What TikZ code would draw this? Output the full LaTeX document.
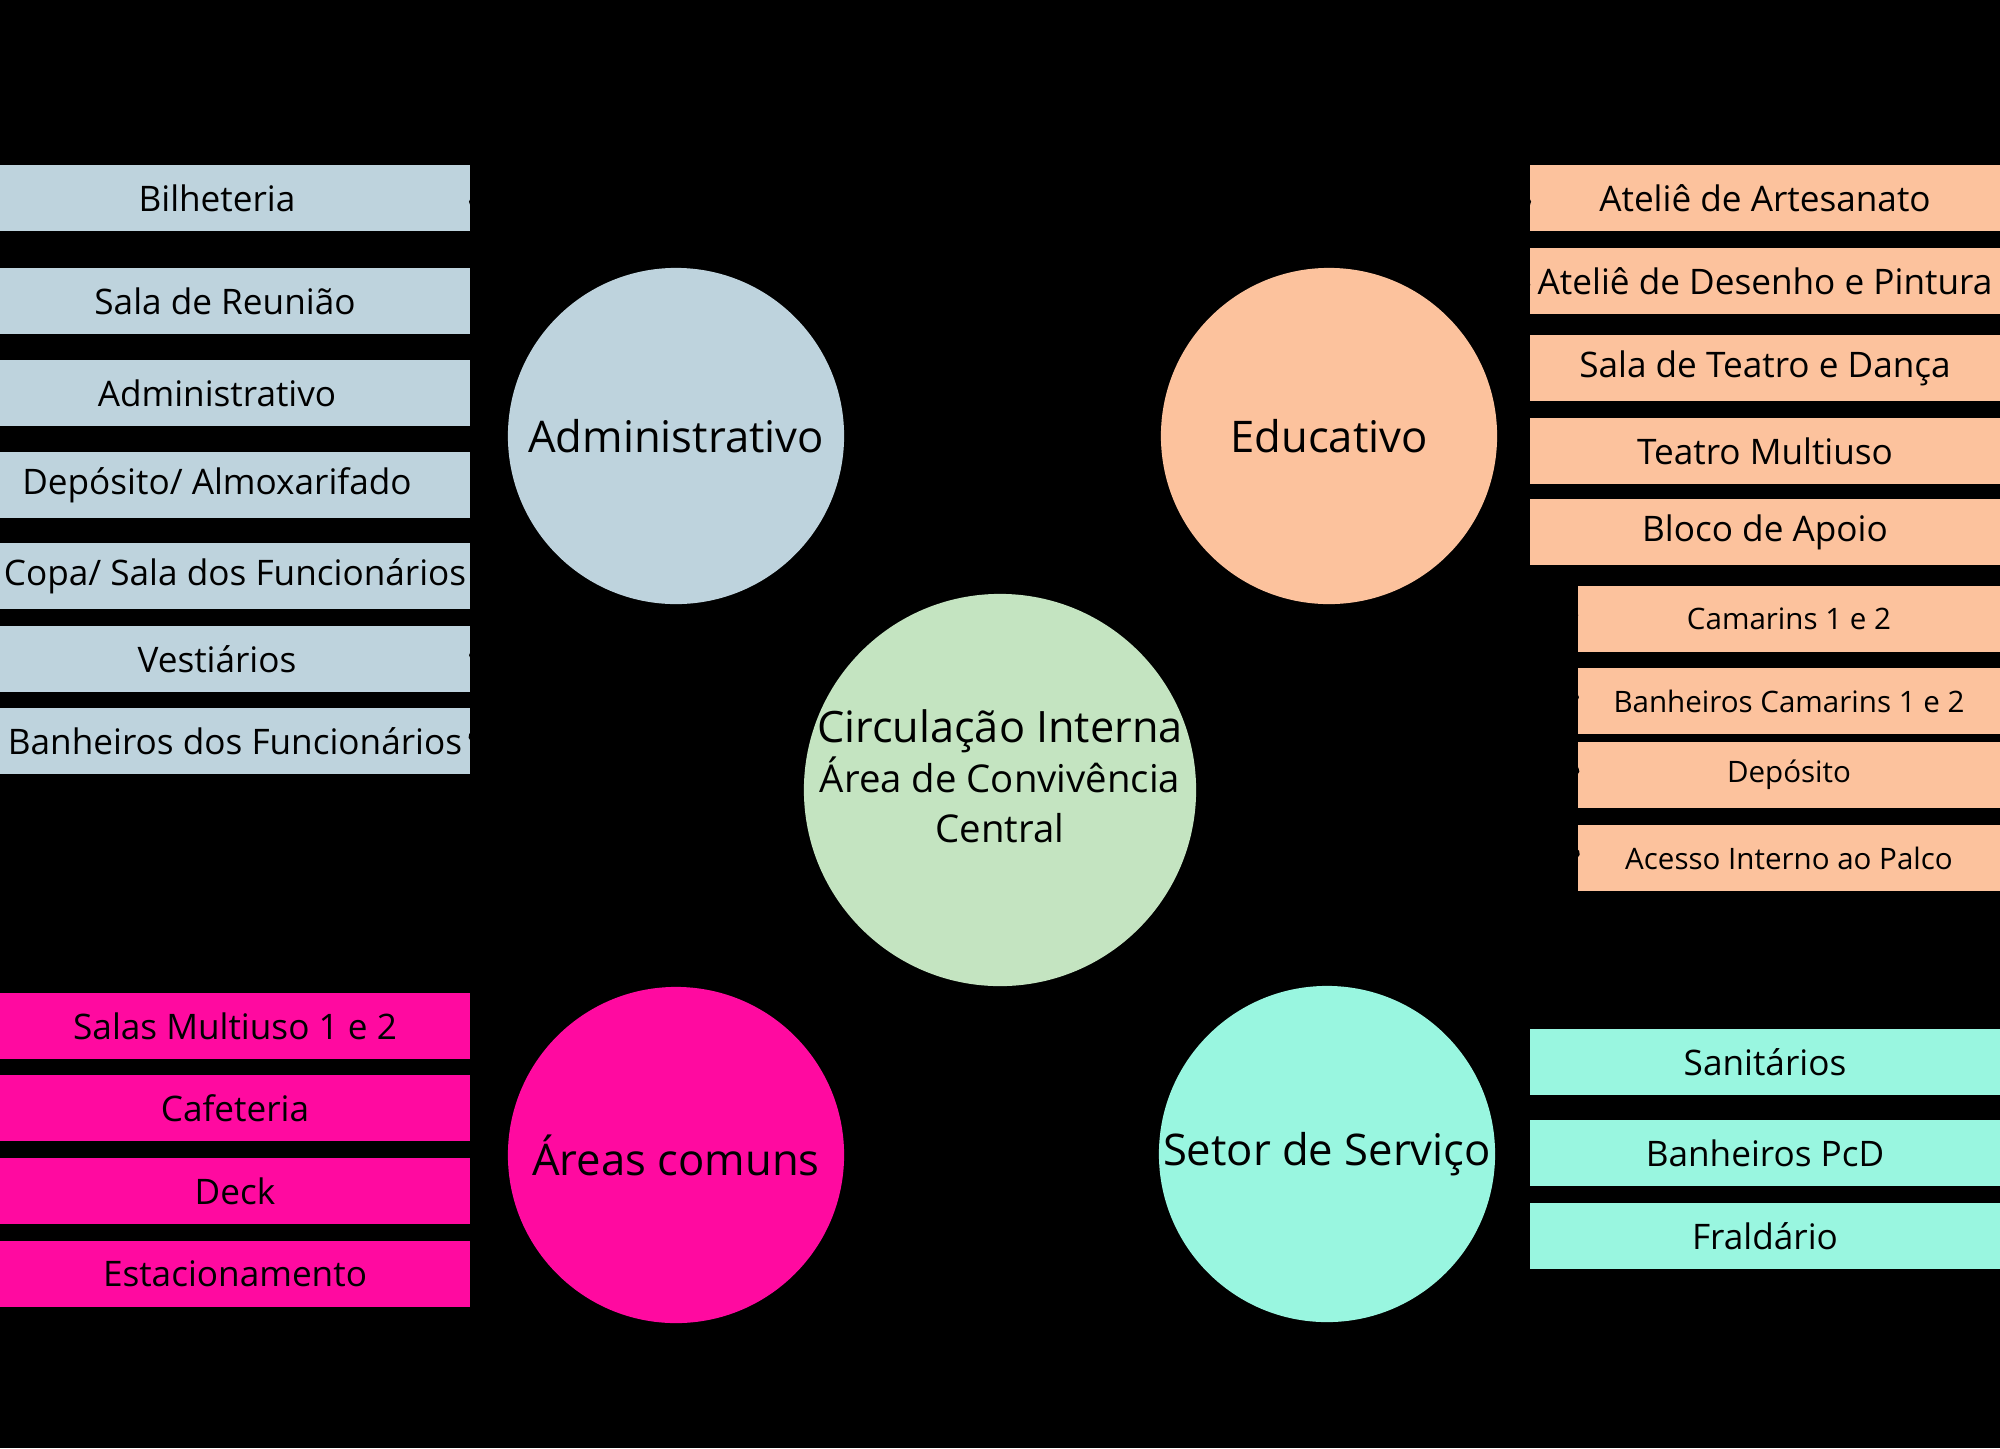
\documentclass[tikz,border=0pt]{standalone}
\usepackage{fontspec}
\setmainfont{Open Sans}
\usepackage{tikz}
\usetikzlibrary{arrows.meta}
\definecolor{admblue}{HTML}{BED3DD}
\definecolor{eduorange}{HTML}{FCC29D}
\definecolor{centgreen}{HTML}{C4E4C1}
\definecolor{compink}{HTML}{FF0AA0}
\definecolor{servmint}{HTML}{99F6E0}

\begin{document}
\begin{tikzpicture}[x=0.01cm,y=-0.01cm,
    box/.style={rectangle,inner sep=0pt,minimum width=4.7cm,minimum height=0.66cm,font=\fontsize{10}{12}\selectfont},
    lbox/.style={box,execute at end node=\hspace{0.36cm}},
    subbox/.style={box,minimum width=4.22cm,font=\fontsize{8.4}{10}\selectfont},
    area/.style={circle,inner sep=0pt,minimum size=3.36cm,font=\fontsize{12.4}{15}\selectfont},
    conn/.style={black,thin,-{Circle[length=3pt]}}]
  \useasboundingbox (0,0) rectangle (2000,1448);
  \fill[black] (0,0) rectangle (2000,1448);
  % circles
  \node[area,fill=admblue] (adm) at (676,436) {Administrativo};
  \node[area,fill=eduorange] (edu) at (1329,436) {Educativo};
  \node[area,fill=compink] (com) at (676,1155) {Áreas comuns};
  \node[area,fill=servmint] (serv) at (1327,1154) {Setor de Serviço};
  \node[area,fill=centgreen,minimum size=3.92cm] (cent) at (1000,790) {};
  \node[align=center,inner sep=0pt,font=\fontsize{12.3}{14.2}\selectfont] (centtxt) at (1000,776)
    {Circulação Interna\\\fontsize{10.9}{14.2}\selectfont Área de Convivência\\\fontsize{10.9}{14.2}\selectfont Central};
  % administrativo
  \node[lbox,fill=admblue] (bilh) at (235,198) {Bilheteria};
  \node[box,fill=admblue,execute at end node=\hspace{0.2cm}] (reun) at (235,301) {Sala de Reunião};
  \node[lbox,fill=admblue] (admb) at (235,393) {Administrativo};
  \node[lbox,fill=admblue] (depo) at (235,485) {Depósito/ Almoxarifado};
  \node[box,fill=admblue] (copa) at (235,576) {Copa/ Sala dos Funcionários};
  \node[lbox,fill=admblue] (vest) at (235,659) {Vestiários};
  \node[box,fill=admblue] (banf) at (235,741) {Banheiros dos Funcionários};
  \foreach \n in {bilh,reun,admb,depo,copa,vest,banf}
    \draw[conn] (adm) -- (\n.east);
  % educativo
  \node[box,fill=eduorange] (atart) at (1765,198) {Ateliê de Artesanato};
  \node[box,fill=eduorange] (atdes) at (1765,281) {Ateliê de Desenho e Pintura};
  \node[box,fill=eduorange] (teda) at (1765,368) {Sala de Teatro e Dança};
  \node[box,fill=eduorange] (temu) at (1765,451) {Teatro Multiuso};
  \node[box,fill=eduorange] (bloc) at (1765,532) {Bloco de Apoio};
  \node[subbox,fill=eduorange] (cama) at (1789,619) {Camarins 1 e 2};
  \node[subbox,fill=eduorange] (banc) at (1789,701) {Banheiros Camarins 1 e 2};
  \node[subbox,fill=eduorange] (depb) at (1789,775) {Depósito};
  \node[subbox,fill=eduorange] (aces) at (1789,858) {Acesso Interno ao Palco};
  \foreach \n in {atart,atdes,teda,temu,bloc,cama,banc,depb,aces}
    \draw[conn] (edu) -- (\n.west);
  % areas comuns
  \node[box,fill=compink] (samu) at (235,1026) {Salas Multiuso 1 e 2};
  \node[box,fill=compink] (cafe) at (235,1108) {Cafeteria};
  \node[box,fill=compink] (deck) at (235,1191) {Deck};
  \node[box,fill=compink] (esta) at (235,1274) {Estacionamento};
  \foreach \n in {samu,cafe,deck,esta}
    \draw[conn] (com) -- (\n.east);
  % setor de servico
  \node[box,fill=servmint] (sani) at (1765,1062) {Sanitários};
  \node[box,fill=servmint] (banp) at (1765,1153) {Banheiros PcD};
  \node[box,fill=servmint] (fral) at (1765,1236) {Fraldário};
  \foreach \n in {sani,banp,fral}
    \draw[conn] (serv) -- (\n.west);
\end{tikzpicture}
\end{document}
